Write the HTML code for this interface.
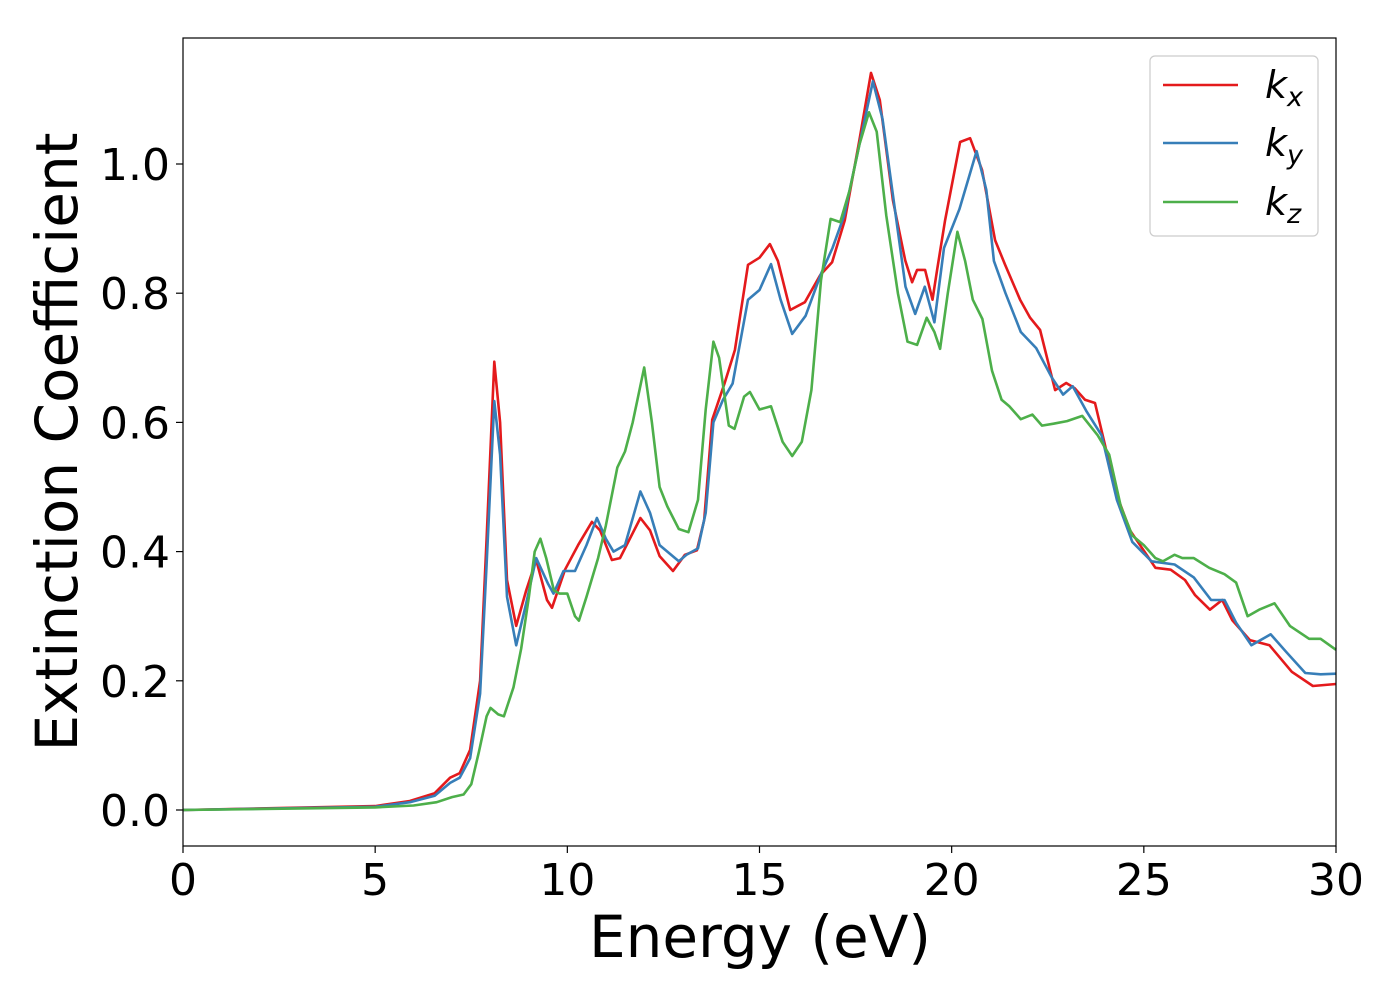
<!DOCTYPE html>
<html><head><meta charset="utf-8"><style>
body{margin:0;background:#fff;}
svg text{font-family:"DejaVu Sans","Liberation Sans",sans-serif;fill:#000;}
</style></head><body>
<svg width="1400" height="1000" viewBox="0 0 1400 1000" xmlns="http://www.w3.org/2000/svg">
<rect width="1400" height="1000" fill="#fff"/>
<g id="series"></g>
<rect x="183" y="38" width="1153" height="808" fill="none" stroke="#000" stroke-width="1.2"/>
<g id="xt"></g>
<g id="yt"></g>
<text x="760" y="957" font-size="58" text-anchor="middle">Energy (eV)</text>
<text transform="translate(77,442) rotate(-90)" font-size="58" text-anchor="middle">Extinction Coefficient</text>
<g>
<rect x="1150" y="56" width="168" height="180" rx="5" fill="#fff" fill-opacity="0.8" stroke="#ccc" stroke-width="1.2"/>
<line x1="1163" y1="85" x2="1238" y2="85" stroke="#e41a1c" stroke-width="2.5"/>
<text x="1265" y="98" font-size="38" font-style="italic">k<tspan font-size="27" dy="8">x</tspan></text>
<line x1="1163" y1="143" x2="1238" y2="143" stroke="#377eb8" stroke-width="2.5"/>
<text x="1265" y="156" font-size="38" font-style="italic">k<tspan font-size="27" dy="8">y</tspan></text>
<line x1="1163" y1="202" x2="1238" y2="202" stroke="#4daf4a" stroke-width="2.5"/>
<text x="1265" y="215" font-size="38" font-style="italic">k<tspan font-size="27" dy="8">z</tspan></text>
</g>
</svg>
<script>
const xTicks=[0,5,10,15,20,25,30];
const yTicks=[0.0,0.2,0.4,0.6,0.8,1.0];
const yTickLabels=["0.0","0.2","0.4","0.6","0.8","1.0"];
const kxData=[[0,0],[5,0.006],[5.9,0.014],[6.55,0.026],[6.95,0.05],[7.2,0.057],[7.47,0.093],[7.73,0.2],[7.9,0.42],[8.1,0.694],[8.25,0.6],[8.43,0.356],[8.67,0.285],[8.93,0.34],[9.19,0.387],[9.47,0.325],[9.6,0.313],[9.94,0.372],[10.28,0.41],[10.64,0.446],[10.85,0.433],[11.16,0.387],[11.37,0.39],[11.9,0.452],[12.15,0.433],[12.4,0.393],[12.75,0.37],[13.06,0.395],[13.37,0.402],[13.56,0.449],[13.77,0.604],[14.1,0.662],[14.36,0.712],[14.7,0.844],[15.0,0.855],[15.27,0.876],[15.48,0.85],[15.8,0.774],[16.18,0.786],[16.58,0.828],[16.89,0.848],[17.22,0.913],[17.6,1.037],[17.9,1.141],[18.13,1.099],[18.47,0.944],[18.79,0.851],[18.97,0.817],[19.1,0.836],[19.31,0.836],[19.5,0.79],[19.62,0.836],[19.83,0.913],[20.22,1.034],[20.48,1.04],[20.79,0.991],[21.13,0.882],[21.39,0.844],[21.78,0.79],[22.04,0.762],[22.3,0.743],[22.69,0.65],[22.98,0.661],[23.2,0.653],[23.47,0.635],[23.73,0.63],[23.99,0.565],[24.25,0.495],[24.64,0.433],[25.3,0.375],[25.7,0.372],[26.07,0.356],[26.33,0.333],[26.72,0.31],[27.04,0.325],[27.3,0.294],[27.76,0.263],[28.27,0.255],[28.85,0.214],[29.4,0.192],[30,0.195]];
const kyData=[[0,0],[5,0.005],[5.9,0.012],[6.55,0.022],[6.95,0.042],[7.2,0.05],[7.47,0.08],[7.73,0.18],[7.9,0.38],[8.1,0.633],[8.25,0.55],[8.43,0.33],[8.67,0.255],[8.93,0.32],[9.19,0.39],[9.5,0.35],[9.64,0.335],[9.9,0.37],[10.2,0.37],[10.5,0.41],[10.77,0.452],[11.0,0.42],[11.2,0.4],[11.5,0.41],[11.9,0.493],[12.15,0.46],[12.4,0.41],[12.9,0.385],[13.1,0.395],[13.4,0.405],[13.6,0.46],[13.8,0.6],[14.05,0.635],[14.3,0.66],[14.7,0.79],[15.0,0.805],[15.3,0.845],[15.55,0.79],[15.85,0.737],[16.2,0.765],[16.6,0.83],[16.9,0.87],[17.2,0.92],[17.6,1.03],[17.95,1.128],[18.2,1.07],[18.5,0.94],[18.8,0.81],[19.05,0.768],[19.3,0.81],[19.55,0.755],[19.8,0.87],[20.2,0.93],[20.45,0.98],[20.65,1.02],[20.9,0.96],[21.1,0.85],[21.4,0.8],[21.8,0.74],[22.2,0.715],[22.6,0.67],[22.9,0.643],[23.15,0.656],[23.5,0.618],[23.9,0.58],[24.3,0.48],[24.7,0.415],[25.2,0.385],[25.8,0.38],[26.3,0.36],[26.75,0.325],[27.1,0.325],[27.4,0.29],[27.8,0.255],[28.3,0.272],[28.7,0.245],[29.2,0.212],[29.6,0.21],[30,0.211]];
const kzData=[[0,0],[5,0.004],[6,0.007],[6.6,0.012],[7.0,0.02],[7.3,0.024],[7.5,0.04],[7.7,0.09],[7.9,0.145],[8.0,0.158],[8.2,0.148],[8.35,0.145],[8.6,0.19],[8.8,0.25],[9.0,0.33],[9.15,0.4],[9.3,0.42],[9.45,0.39],[9.65,0.34],[9.8,0.335],[10.0,0.335],[10.2,0.3],[10.3,0.293],[10.5,0.33],[10.8,0.39],[11.0,0.44],[11.3,0.53],[11.5,0.555],[11.7,0.6],[12.0,0.685],[12.2,0.6],[12.4,0.5],[12.6,0.47],[12.9,0.435],[13.15,0.43],[13.4,0.48],[13.6,0.62],[13.8,0.725],[13.95,0.7],[14.2,0.595],[14.35,0.59],[14.6,0.64],[14.75,0.647],[15.0,0.62],[15.3,0.625],[15.6,0.57],[15.85,0.548],[16.1,0.57],[16.35,0.65],[16.6,0.82],[16.85,0.915],[17.1,0.91],[17.35,0.96],[17.6,1.03],[17.85,1.08],[18.05,1.05],[18.3,0.92],[18.6,0.8],[18.85,0.725],[19.1,0.72],[19.35,0.762],[19.55,0.74],[19.7,0.714],[19.9,0.8],[20.15,0.895],[20.35,0.85],[20.55,0.79],[20.8,0.76],[21.05,0.68],[21.3,0.635],[21.5,0.625],[21.8,0.605],[22.1,0.612],[22.35,0.595],[22.65,0.598],[23.0,0.602],[23.4,0.61],[23.8,0.58],[24.1,0.55],[24.4,0.47],[24.7,0.425],[25.0,0.41],[25.3,0.39],[25.5,0.385],[25.8,0.395],[26.0,0.39],[26.3,0.39],[26.7,0.375],[27.1,0.365],[27.4,0.352],[27.7,0.3],[28.0,0.31],[28.4,0.32],[28.8,0.285],[29.3,0.265],[29.6,0.265],[30,0.248]];
const NS="http://www.w3.org/2000/svg";
const X0=183,X1=1336,Y0=810,Y1=164;
function xs(e){return X0+(e-0)/30*(X1-X0);}
function ys(k){return Y0+(k-0)*(Y1-Y0);}
const xt=document.getElementById('xt'),yt=document.getElementById('yt'),sg=document.getElementById('series');
xTicks.forEach(function(t){
  const l=document.createElementNS(NS,'line');
  
  
  l.setAttribute('x1',xs(t));l.setAttribute('x2',xs(t));l.setAttribute('y1',846);l.setAttribute('y2',853);l.setAttribute('stroke','#000');l.setAttribute('stroke-width','1.2');
  xt.appendChild(l);
  const s=document.createElementNS(NS,'text');
  
  
  s.setAttribute('x',xs(t));s.setAttribute('y',895);s.setAttribute('font-size','44');s.setAttribute('text-anchor','middle');
  s.textContent=String(t);xt.appendChild(s);
});
yTicks.forEach(function(t,i){
  const l=document.createElementNS(NS,'line');
  
  
  l.setAttribute('x1',176);l.setAttribute('x2',183);l.setAttribute('y1',ys(t));l.setAttribute('y2',ys(t));l.setAttribute('stroke','#000');l.setAttribute('stroke-width','1.2');
  yt.appendChild(l);
  const s=document.createElementNS(NS,'text');
  
  
  s.setAttribute('x',170);s.setAttribute('y',ys(t)+16);s.setAttribute('font-size','44');s.setAttribute('text-anchor','end');
  s.textContent=yTickLabels[i];yt.appendChild(s);
});
[[kzData,'#4daf4a','series-kz'],[kyData,'#377eb8','series-ky'],[kxData,'#e41a1c','series-kx']].reverse().forEach(function(d){
  const p=document.createElementNS(NS,'polyline');
  
  
  p.setAttribute('points',d[0].map(function(q){return xs(q[0]).toFixed(1)+','+ys(q[1]).toFixed(1);}).join(' '));
  p.setAttribute('fill','none');p.setAttribute('stroke',d[1]);p.setAttribute('stroke-width','2.6');p.setAttribute('stroke-linejoin','round');
  sg.appendChild(p);
});
</script>
</body></html>
